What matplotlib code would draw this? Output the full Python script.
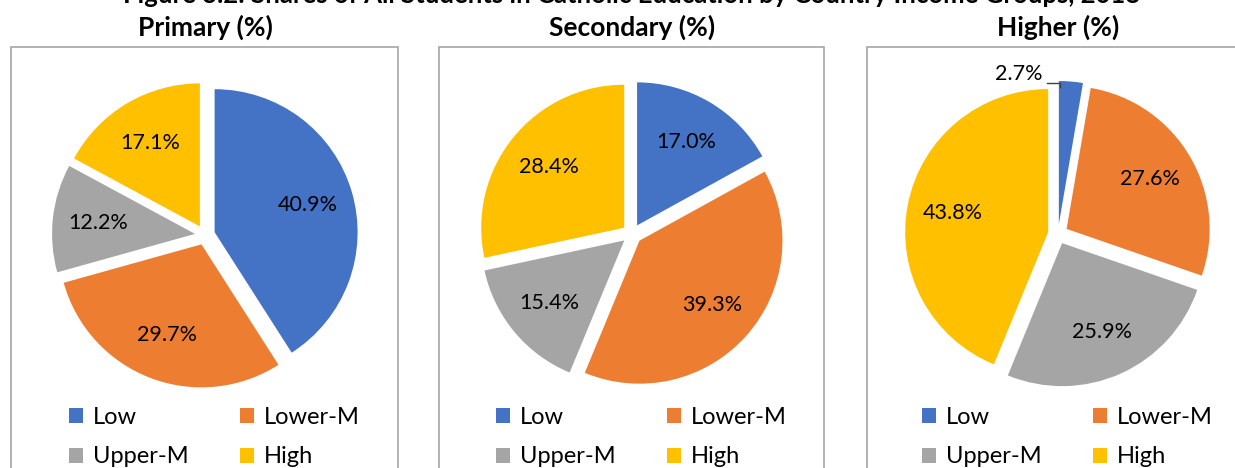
import numpy as np
import matplotlib
matplotlib.use('Agg')
import matplotlib.pyplot as plt
from matplotlib.patches import Patch, Rectangle

plt.rcParams['font.family'] = ['Lato', 'DejaVu Sans']

groups = ['Low', 'Lower-M', 'Upper-M', 'High']
colors = ['#4472C4', '#ED7D31', '#A5A5A5', '#FFC000']

titles = ['Primary (%)', 'Secondary (%)', 'Higher (%)']
primary = [40.9, 29.7, 12.2, 17.1]
secondary = [17.0, 39.3, 15.4, 28.4]
higher = [2.7, 27.6, 25.9, 43.8]
shares = [primary, secondary, higher]

W, H = 1235, 468
R = 143                      # pie radius in px
centers = [(205, 235), (632, 234), (1058, 234)]
boxes = [(11, 398), (439, 824), (867, 1245)]

fig = plt.figure(figsize=(W / 100, H / 100), dpi=100)

fig.text(632 / W, 1 - 3 / H,
         'Figure 3.2: Shares of All Students in Catholic Education by Country Income Groups, 2018',
         ha='center', va='baseline', fontsize=18.5, fontweight='bold')

for (x0, x1) in boxes:
    fig.patches.append(Rectangle((x0 / W, -0.05), (x1 - x0) / W, 1.05 - 47 / H,
                                 transform=fig.transFigure, fill=False,
                                 edgecolor='#A6A6A6', linewidth=1.2))

# matplotlib fills legend columns first, so reorder to read row by row
order = [0, 2, 1, 3]

for i, vals in enumerate(shares):
    cx, cy = centers[i]
    ax = fig.add_axes([(cx - 1.2 * R) / W, (H - cy - 1.2 * R) / H,
                       2.4 * R / W, 2.4 * R / H])
    wedges, texts, autotexts = ax.pie(vals, colors=colors, startangle=90,
                                      counterclock=False, explode=[0.07] * 4,
                                      autopct=lambda p: '', pctdistance=0.68,
                                      wedgeprops=dict(linewidth=0))
    for t, v in zip(autotexts, vals):
        t.set_text(f'{v:.1f}%')
        t.set_fontsize(15.5)
        t.set_color('black')
    ax.set_xlim(-1.2, 1.2)
    ax.set_ylim(-1.2, 1.2)
    ax.axis('off')

    if vals[0] < 5:
        # small slice: put label outside with a leader line
        w = wedges[0]
        ang = np.deg2rad(w.theta2 - 0.5)
        xe = w.center[0] + w.r * np.cos(ang)
        ye = w.center[1] + w.r * np.sin(ang)
        autotexts[0].set_position((xe - 0.12, ye + 0.05))
        autotexts[0].set_ha('right')
        autotexts[0].set_va('center')
        ax.plot([xe - 0.09, xe, xe], [ye - 0.015, ye - 0.015, ye - 0.045],
                color='#404040', linewidth=1, clip_on=False)

    fig.text(cx / W, 1 - 36 / H, titles[i], ha='center', va='baseline',
             fontsize=19, fontweight='bold')

    handles = [Patch(facecolor=colors[k], edgecolor='none') for k in order]
    labels = [groups[k] for k in order]
    fig.legend(handles, labels, ncol=2, loc='upper left',
               bbox_to_anchor=((cx - 136) / W, 1 - 407 / H),
               bbox_transform=fig.transFigure, frameon=False,
               fontsize=17, handlelength=0.6, handleheight=0.6,
               handletextpad=0.4, columnspacing=2.2, labelspacing=0.78,
               borderpad=0, borderaxespad=0)

fig.savefig('out.png', dpi=100)
